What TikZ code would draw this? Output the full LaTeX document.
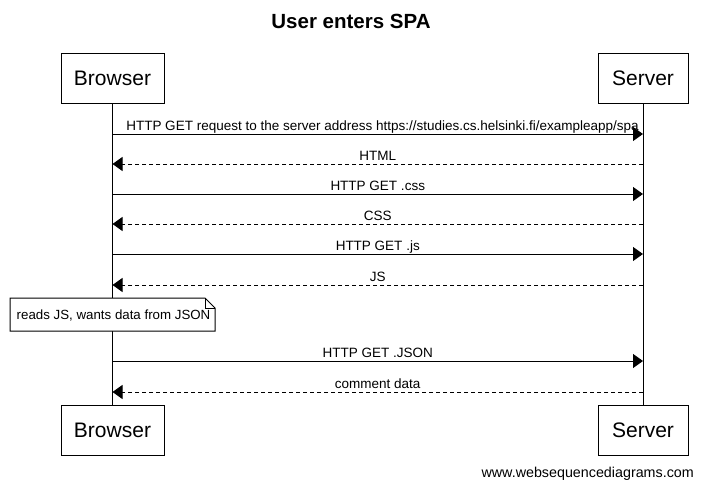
\documentclass[tikz,border=0pt]{standalone}
\usepackage{fontspec}
\setmainfont{Liberation Sans}
\usetikzlibrary{arrows.meta}
\begin{document}
\begin{tikzpicture}[x=1pt,y=-1pt,
  actor/.style={draw,line width=1pt,minimum width=#1,minimum height=50pt,inner sep=0pt,font=\fontsize{21}{24}\selectfont},
  msg/.style={line width=1pt,-{Triangle[length=10pt,width=14pt]}},
  reply/.style={msg,dash pattern=on 4pt off 3pt},
  lbl/.style={anchor=base,font=\fontsize{13.5}{15}\selectfont,inner sep=0pt},
  life/.style={line width=1pt}]
\useasboundingbox (0,0) rectangle (702,488);
\fill[white] (0,0) rectangle (702,488);
\node[font=\bfseries\fontsize{20.5}{24}\selectfont] (title) at (351,21) {User enters SPA};
\node[actor=103pt] (b1) at (112.5,78) {Browser};
\node[actor=90pt] (s1) at (643,78) {Server};
\node[actor=103pt] (b2) at (112.5,430) {Browser};
\node[actor=90pt] (s2) at (643,430) {Server};
\draw[life] (b1.south) -- (b2.north);
\draw[life] (s1.south) -- (s2.north);
% message endpoints
\foreach \n/\y in {1/134,2/164,3/194,4/224,5/254,6/285,7/361,8/392}{
  \coordinate (bb\n) at (112.5,\y);
  \coordinate (ss\n) at (643,\y);
}
\draw[msg] (bb1) -- (ss1);
\node[lbl] (l1) at (382.5,130) {HTTP GET request to the server address https://studies.cs.helsinki.fi/exampleapp/spa};
\draw[reply] (ss2) -- (bb2);
\node[lbl] (l2) at (377.75,160) {HTML};
\draw[msg] (bb3) -- (ss3);
\node[lbl] (l3) at (377.75,190) {HTTP GET .css};
\draw[reply] (ss4) -- (bb4);
\node[lbl] (l4) at (377.75,220) {CSS};
\draw[msg] (bb5) -- (ss5);
\node[lbl] (l5) at (377.75,250) {HTTP GET .js};
\draw[reply] (ss6) -- (bb6);
\node[lbl] (l6) at (377.75,281) {JS};
% note
\draw[line width=1pt,fill=white] (10,298) -- (205,298) -- (215,308) -- (215,331) -- (10,331) -- cycle;
\draw[line width=1pt] (205,298) -- (205,308) -- (215,308);
\node[lbl,anchor=base west,font=\fontsize{13.3}{15}\selectfont] (note) at (16.5,319) {reads JS, wants data from JSON};
\draw[msg] (bb7) -- (ss7);
\node[lbl] (l7) at (377.75,357) {HTTP GET .JSON};
\draw[reply] (ss8) -- (bb8);
\node[lbl] (l8) at (377.75,388) {comment data};
\node[anchor=base east,inner sep=0pt,font=\fontsize{14.3}{16}\selectfont] (wm) at (694,477) {www.websequencediagrams.com};
\end{tikzpicture}
\end{document}
